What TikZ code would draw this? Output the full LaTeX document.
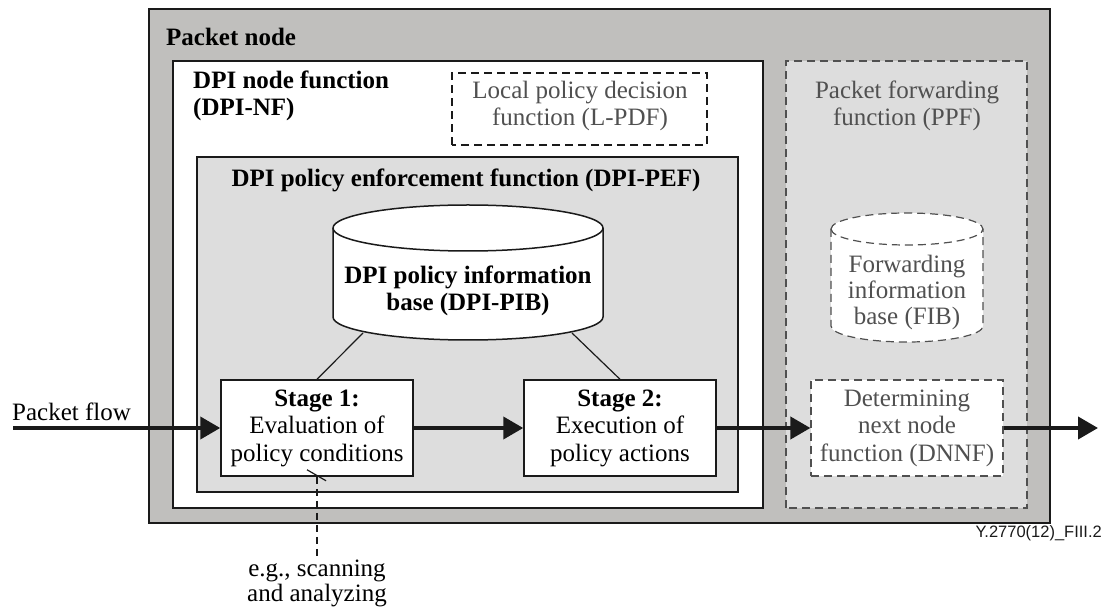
\documentclass[tikz,border=0pt]{standalone}
\usepackage{fontspec}
\setmainfont{Liberation Serif}
\newfontfamily\tagfont{Liberation Sans}
\usetikzlibrary{arrows.meta}
\usetikzlibrary{calc}

\definecolor{nodegray}{RGB}{192,191,189}
\definecolor{pefgray}{RGB}{221,221,221}
\definecolor{dashgray}{RGB}{80,80,80}
\definecolor{linedark}{RGB}{26,26,26}

\begin{document}
\begin{tikzpicture}[x=1pt, y=1pt,
  font=\fontsize{25}{27.5}\selectfont,
  frame/.style={draw=linedark, line width=1.5pt},
  dframe/.style={draw=dashgray, line width=1.2pt, dash pattern=on 8pt off 5pt},
  stagebox/.style={frame, fill=white, minimum width=192pt, minimum height=96pt, align=center, inner sep=0pt},
  flow/.style={draw=linedark, line width=4pt, -{Triangle[length=20pt, width=22pt]}},
  title/.style={font=\fontsize{25}{27.5}\selectfont\bfseries, inner sep=0pt},
  greytext/.style={text=dashgray, align=center, inner sep=0pt}]
\useasboundingbox (0,0) rectangle (1106,611);
% packet node and its functions
\draw[frame, fill=nodegray] (149,88) rectangle (1050,602);
\draw[frame, fill=white] (173,103) rectangle (763,550);
\draw[dframe, draw=linedark] (452,466) rectangle (707,538);
\draw[frame, fill=pefgray] (197,119) rectangle (738,454);
\draw[dframe, fill=pefgray] (786,103) rectangle (1027,550);
\node[title, anchor=west] (pnode) at (166,574) {Packet node};
\node[title, anchor=west, align=left] (nft) at (193,515) {DPI node function\\(DPI-NF)};
\node[greytext] (lpdf) at (580,505) {Local policy decision\\function (L-PDF)};
\node[title] (peft) at (466,431) {DPI policy enforcement function (DPI-PEF)};
\node[greytext] (ppft) at (907,505) {Packet forwarding\\function (PPF)};
% DPI-PIB cylinder
\draw[frame, fill=white] (333,383) -- (333,294) arc[start angle=180, end angle=360, x radius=135, y radius=23]
  -- (603,383) arc[start angle=0, end angle=180, x radius=135, y radius=23] -- cycle;
\draw[frame] (333,383) arc[start angle=180, end angle=360, x radius=135, y radius=23];
\node[title, align=center] (pib) at (468,320) {DPI policy information\\base (DPI-PIB)};
% FIB cylinder
\draw[dframe, fill=white] (831,382) -- (831,285) arc[start angle=180, end angle=360, x radius=76, y radius=16]
  -- (983,382) arc[start angle=0, end angle=180, x radius=76, y radius=16] -- cycle;
\draw[dframe] (831,382) arc[start angle=180, end angle=360, x radius=76, y radius=16];
\node[greytext, font=\fontsize{25}{26}\selectfont] (fib) at (907,319) {Forwarding\\information\\base (FIB)};
% stages
\node[stagebox] (s1) at (317,183) {\textbf{Stage 1:}\\Evaluation of\\policy conditions};
\node[stagebox] (s2) at (620,183) {\textbf{Stage 2:}\\Execution of\\policy actions};
\node[stagebox, dframe, text=dashgray] (dnnf) at (907,183) {Determining\\next node\\function (DNNF)};
\coordinate (pibl) at (363,278);
\coordinate (pibr) at (572,278);
\draw[frame, line width=1.2pt] (pibl) -- (s1.north);
\draw[frame, line width=1.2pt] (pibr) -- (s2.north);
% packet flow
\node[anchor=west, inner sep=0pt] (pflow) at (12,199) {Packet flow};
\coordinate (in) at (13,183);
\coordinate (out) at (1098,183);
\draw[flow] (in) -- (s1.west);
\draw[flow] (s1.east) -- (s2.west);
\draw[flow] (s2.east) -- (dnnf.west);
\draw[flow] (dnnf.east) -- (out);
% note below stage 1
\node[align=center, inner sep=0pt, font=\fontsize{25}{25}\selectfont] (note) at (317,28) {e.g., scanning\\and analyzing};
\draw[linedark, line width=1.2pt, dash pattern=on 7pt off 5pt] (s1.south) -- (note.north);
\draw[linedark, line width=1.2pt] ($(s1.south)+(-10,7)$) -- ($(s1.south)+(9,-4)$);
\node[font=\tagfont\fontsize{16.5}{18}\selectfont, anchor=east, inner sep=0pt, text=linedark] (tag) at (1102,78) {Y.2770(12)\_FIII.2};
\end{tikzpicture}
\end{document}
